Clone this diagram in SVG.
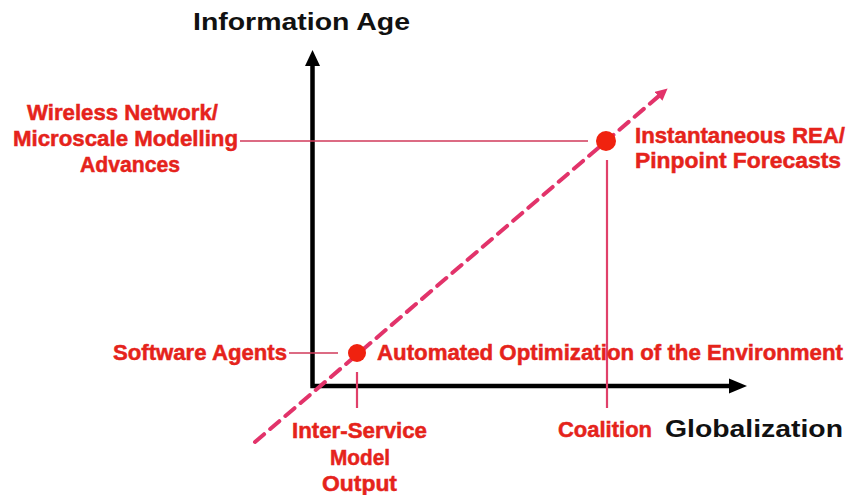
<svg xmlns="http://www.w3.org/2000/svg" width="847" height="495" viewBox="0 0 847 495">
<style>
.t{font-family:"Liberation Sans",Arial,sans-serif;font-weight:bold}
.blk{fill:#111;font-size:24px}
.red{fill:#e5231b;font-size:22px;stroke:#e5231b;stroke-width:0.5}
.axis{stroke:#000;stroke-width:4.5;fill:none}
.lead{stroke:#d03a5a;stroke-width:1.6;fill:none}
.lead2{stroke:#e0406a;stroke-width:2.2;fill:none}
.dash{stroke:#e2336a;stroke-width:4;fill:none;stroke-dasharray:12 8;stroke-linecap:round}
</style>
<defs>
<marker id="ah" markerWidth="12" markerHeight="12" refX="2" refY="6" orient="auto" markerUnits="userSpaceOnUse">
<path d="M0,0 L12,6 L0,12 Z" fill="#e2336a"/>
</marker>
</defs>
<rect width="847" height="495" fill="#fff"/>
<g id="axes">
<path class="axis" d="M312.5,386 L312.5,62 M310.3,386 L733,386"/>
<path d="M305,66 L312.5,50 L320,66 Z" fill="#000"/>
<path d="M729,378.5 L747,386 L729,393.5 Z" fill="#000"/>
</g>
<g id="connectors">
<line class="dash" x1="255" y1="442" x2="660" y2="95" marker-end="url(#ah)"/>
<line class="lead" x1="240" y1="141" x2="588" y2="141"/>
<line class="lead2" x1="607" y1="160" x2="607" y2="408"/>
<line class="lead" x1="289" y1="353" x2="338" y2="353"/>
<line class="lead2" x1="357" y1="372" x2="357" y2="408"/>
</g>
<g id="axis-labels">
<text class="t blk" x="193" y="30" textLength="217" lengthAdjust="spacingAndGlyphs">Information Age</text>
<text class="t blk" x="665" y="437" textLength="178" lengthAdjust="spacingAndGlyphs">Globalization</text>
</g>
<g id="node-wireless">
<text class="t red" x="27" y="120" textLength="191" lengthAdjust="spacingAndGlyphs">Wireless Network/</text>
<text class="t red" x="13" y="146" textLength="225" lengthAdjust="spacingAndGlyphs">Microscale Modelling</text>
<text class="t red" x="80" y="172" textLength="100" lengthAdjust="spacingAndGlyphs">Advances</text>
</g>
<g id="node-instantaneous">
<circle cx="606" cy="141" r="10" fill="#f0220f"/>
<text class="t red" x="635" y="143" textLength="210" lengthAdjust="spacingAndGlyphs">Instantaneous REA/</text>
<text class="t red" x="635" y="168" textLength="206" lengthAdjust="spacingAndGlyphs">Pinpoint Forecasts</text>
</g>
<g id="node-automated">
<circle cx="357" cy="353" r="9" fill="#f0220f"/>
<text class="t red" x="377" y="360" textLength="466" lengthAdjust="spacingAndGlyphs">Automated Optimization of the Environment</text>
</g>
<g id="node-software">
<text class="t red" x="113" y="360" textLength="174" lengthAdjust="spacingAndGlyphs">Software Agents</text>
</g>
<g id="node-interservice">
<text class="t red" x="292" y="438" textLength="135" lengthAdjust="spacingAndGlyphs">Inter-Service</text>
<text class="t red" x="330" y="465" textLength="60" lengthAdjust="spacingAndGlyphs">Model</text>
<text class="t red" x="322" y="491" textLength="75" lengthAdjust="spacingAndGlyphs">Output</text>
</g>
<g id="node-coalition">
<text class="t red" x="558" y="437" textLength="94" lengthAdjust="spacingAndGlyphs">Coalition</text>
</g>
</svg>
